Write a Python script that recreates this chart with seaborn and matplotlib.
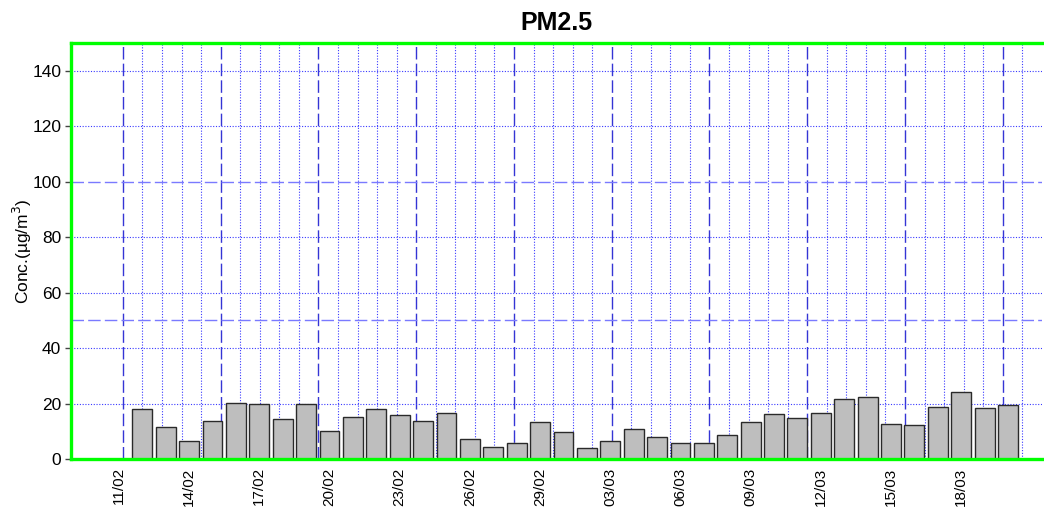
import numpy as np
import pandas as pd
import matplotlib
matplotlib.use("Agg")
import matplotlib.pyplot as plt
import seaborn as sns

# --- data ---
origin = "2024-02-11"
dates = pd.date_range("2024-02-12", "2024-03-20", freq="D")
pm25 = [17.9, 11.4, 6.4, 13.7, 20.1, 19.8, 14.3, 19.8, 10.0, 15.2,
        18.0, 15.9, 13.8, 16.6, 7.2, 4.2, 5.9, 13.2, 9.6, 3.8,
        6.4, 10.7, 7.8, 5.9, 5.6, 8.5, 13.2, 16.1, 14.7, 16.5,
        21.5, 22.3, 12.5, 12.2, 18.7, 24.1, 18.2, 19.5]
tick_labels = ["11/02", "14/02", "17/02", "20/02", "23/02", "26/02", "29/02",
               "03/03", "06/03", "09/03", "12/03", "15/03", "18/03"]
y_ticks = [0, 20, 40, 60, 80, 100, 120, 140]
ref_lines = [50, 100]

sns.set_theme(style="white")
plt.rcParams["font.family"] = ["Liberation Sans", "DejaVu Sans"]
plt.rcParams["text.color"] = "black"
plt.rcParams["xtick.color"] = "black"
plt.rcParams["ytick.color"] = "black"
plt.rcParams["axes.labelcolor"] = "black"

df = pd.DataFrame({"date": dates, "pm25": pm25})
df["day"] = (df["date"] - pd.Timestamp(origin)).dt.days

fig = plt.figure(figsize=(10.44, 5.08), dpi=100)
ax = fig.add_axes([0.068, 0.0965, 0.93, 0.819])

# background grid (its own spacing, not aligned with the days)
grid_start, grid_step = 0.17, 0.8357
vgrid = grid_start + grid_step * np.arange(0, 47)
for k, x in enumerate(vgrid):
    if k % 5 == 0:
        ax.axvline(x, color="#3535d5", lw=1.0, ls=(0, (9, 3)), zorder=0)
    else:
        ax.axvline(x, color="#3a3aff", lw=0.8, ls=(0, (1, 1.5)), zorder=0)
for y in y_ticks[1:]:
    if y not in ref_lines:
        ax.axhline(y, color="#3a3aff", lw=0.8, ls=(0, (1, 1.5)), zorder=0)
for y in ref_lines:
    ax.axhline(y, color="#7a7aff", lw=1.0, ls=(0, (9, 3)), zorder=0)

sns.barplot(data=df, x="day", y="pm25", native_scale=True, width=0.85,
            color="#bebebe", saturation=1, edgecolor="#2a2a2a", linewidth=1.0,
            ax=ax, zorder=2)

ax.set_xlim(-2.05, 39.45)
ax.set_ylim(0, 150)
ax.set_xticks(np.arange(0, 37, 3))
ax.set_xticklabels(tick_labels, rotation=90, fontsize=11)
ax.set_yticks(y_ticks)
ax.set_yticklabels([str(v) for v in y_ticks], fontsize=12.5)
ax.tick_params(axis="x", length=0, pad=6)
ax.tick_params(axis="y", length=4, width=1, color="#444444", pad=3, left=True)
ax.set_xlabel("")
ax.set_ylabel("Conc.(µg/m$^3$)", fontsize=12.5)
ax.yaxis.set_label_coords(-0.038, 0.5)
ax.set_title("PM2.5", fontsize=18, fontweight="bold", pad=9)

for side in ["left", "top", "bottom"]:
    ax.spines[side].set_color("#00ff00")
    ax.spines[side].set_linewidth(2.4)
    ax.spines[side].set_zorder(5)
ax.spines["right"].set_visible(False)

fig.savefig("out.png", dpi=100)
